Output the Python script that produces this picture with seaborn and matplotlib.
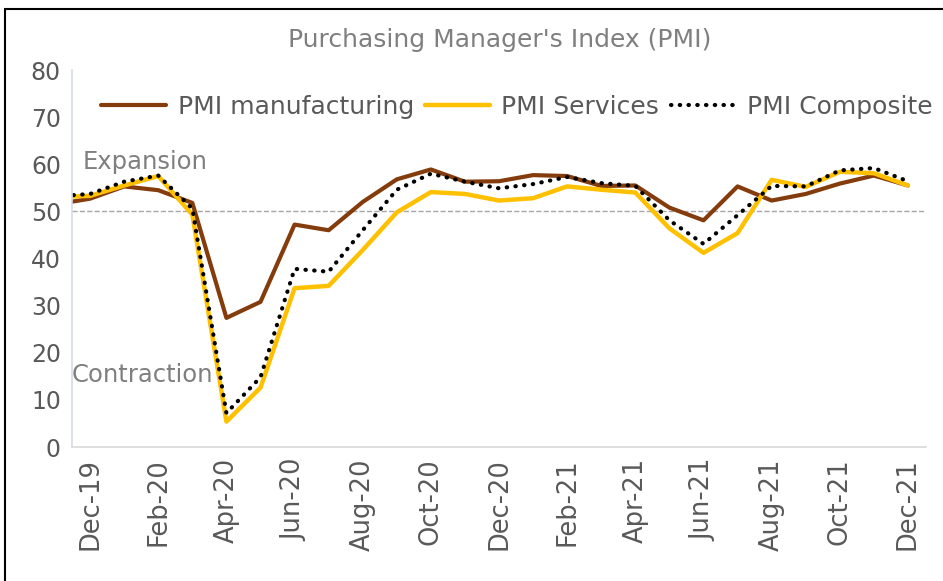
import numpy as np
import pandas as pd
import matplotlib
matplotlib.use("Agg")
import matplotlib.pyplot as plt
from matplotlib.patches import Rectangle
import seaborn as sns

# ------------------------------------------------------------------
# Data: India PMI, Nov-19 .. Dec-21 (Nov-19 sits just left of the axis)
# ------------------------------------------------------------------
months = ["Nov-19", "Dec-19", "Jan-20", "Feb-20", "Mar-20", "Apr-20", "May-20",
          "Jun-20", "Jul-20", "Aug-20", "Sep-20", "Oct-20", "Nov-20", "Dec-20",
          "Jan-21", "Feb-21", "Mar-21", "Apr-21", "May-21", "Jun-21", "Jul-21",
          "Aug-21", "Sep-21", "Oct-21", "Nov-21", "Dec-21"]
pmi_manufacturing = [51.5, 52.7, 55.3, 54.5, 51.8, 27.4, 30.8, 47.2, 46.0, 52.0,
                     56.8, 58.9, 56.3, 56.4, 57.7, 57.5, 55.4, 55.5, 50.8, 48.1,
                     55.3, 52.3, 53.7, 55.9, 57.6, 55.5]
pmi_services = [53.0, 53.3, 55.5, 57.5, 49.3, 5.4, 12.6, 33.7, 34.2, 41.8,
                49.8, 54.1, 53.7, 52.3, 52.8, 55.3, 54.6, 54.0, 46.4, 41.2,
                45.4, 56.7, 55.2, 58.4, 58.1, 55.5]
pmi_composite = [53.2, 53.7, 56.3, 57.6, 50.6, 7.2, 14.8, 37.8, 37.2, 46.0,
                 54.6, 58.0, 56.3, 54.9, 55.8, 57.3, 56.0, 55.4, 48.1, 43.1,
                 49.2, 55.4, 55.3, 58.7, 59.2, 56.4]
y_ticks = [0, 10, 20, 30, 40, 50, 60, 70, 80]

df = pd.DataFrame({
    "idx": np.arange(len(months)) - 1,
    "month": months,
    "PMI manufacturing": pmi_manufacturing,
    "PMI Services": pmi_services,
    "PMI Composite": pmi_composite,
})

# ------------------------------------------------------------------
# Plot
# ------------------------------------------------------------------
sns.set_style("white")
plt.rcParams["font.family"] = ["DejaVu Sans"]

fig = plt.figure(figsize=(9.43, 5.81), dpi=100)
ax = fig.add_axes([0.0764, 0.2306, 0.9056, 0.6489])

sns.lineplot(data=df, x="idx", y="PMI manufacturing", ax=ax, color="#843C0C",
             linewidth=3.0, label="PMI manufacturing")
sns.lineplot(data=df, x="idx", y="PMI Services", ax=ax, color="#FFC000",
             linewidth=3.2, label="PMI Services")
sns.lineplot(data=df, x="idx", y="PMI Composite", ax=ax, color="black",
             linewidth=3.0, label="PMI Composite",
             linestyle=(0, (0.1, 2.0)), dash_capstyle="round")

# 50 threshold
ax.axhline(50, color="#A6A6A6", linestyle="--", linewidth=1.0, zorder=1)

ax.set_xlim(-0.53, 24.53)
ax.set_ylim(0, 80)
ax.set_yticks(y_ticks)
ax.set_yticklabels([str(v) for v in y_ticks])
tick_pos = df["idx"].values[1::2]
ax.set_xticks(tick_pos)
ax.set_xticklabels(df["month"].values[1::2], rotation=90)
ax.tick_params(axis="both", length=0, colors="#595959", pad=8)
ax.tick_params(axis="x", labelsize=18.5)
ax.tick_params(axis="y", labelsize=17)
ax.set_xlabel("")
ax.set_ylabel("")

for side in ["top", "right"]:
    ax.spines[side].set_visible(False)
ax.spines["left"].set_color("#D6DCE5")
ax.spines["bottom"].set_color("#D9D9D9")
ax.spines["left"].set_linewidth(1.2)
ax.spines["bottom"].set_linewidth(1.2)

ax.text(0.012, 0.755, "Expansion", transform=ax.transAxes, fontsize=17.5,
        color="#7F7F7F", ha="left", va="center")
ax.text(0.0, 0.19, "Contraction", transform=ax.transAxes, fontsize=17.5,
        color="#7F7F7F", ha="left", va="center")

leg = ax.legend(loc="center", bbox_to_anchor=(0.521, 0.902), ncol=3,
                frameon=False, fontsize=18, handlelength=2.6,
                handletextpad=0.45, columnspacing=0.45)
for t in leg.get_texts():
    t.set_color("#595959")

fig.text(0.53, 0.932, "Purchasing Manager's Index (PMI)", ha="center",
         va="center", fontsize=18, color="#7F7F7F")

# outer frame (cut at right and bottom as in the original)
fig.patches.append(Rectangle((5 / 943, -0.1), 1.2, 1.1 - 9 / 581,
                             transform=fig.transFigure, fill=False,
                             edgecolor="black", linewidth=1.5))

fig.savefig("out.png", dpi=100)
